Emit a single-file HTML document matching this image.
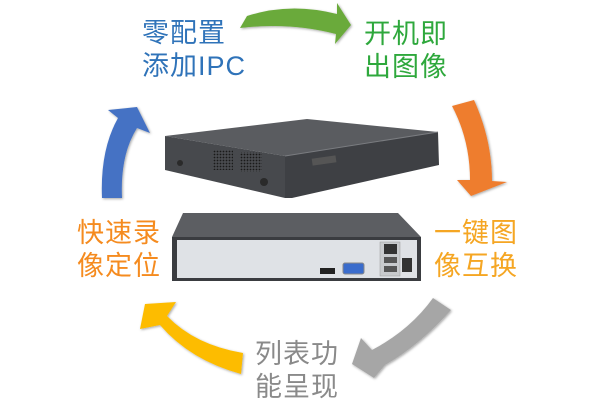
<!DOCTYPE html>
<html><head><meta charset="utf-8"><style>
html,body{margin:0;padding:0;background:#fff;}
body{width:604px;height:404px;position:relative;overflow:hidden;font-family:"Liberation Sans","Noto Sans CJK SC",sans-serif;}
.t{position:absolute;font-size:27px;line-height:33px;text-align:left;letter-spacing:1px;white-space:nowrap;}
</style></head><body>
<svg width="604" height="404" style="position:absolute;left:0;top:0">
<defs><filter id="s" x="-20%" y="-20%" width="140%" height="140%"><feDropShadow dx="1" dy="1" stdDeviation="1.2" flood-color="#000" flood-opacity="0.35"/></filter>
<pattern id="v" width="3" height="3" patternUnits="userSpaceOnUse"><rect width="3" height="3" fill="#4a4c50"/><circle cx="1.5" cy="1.5" r="0.9" fill="#1a1a1a"/></pattern></defs>
<path d="M240,28 L247,16 Q290,2 337,14 L337,3 L351,25 L335,44 L336,34 Q290,22 240,28 Z" fill="#6aaa3a" filter="url(#s)"/>
<path d="M452,106 L474,100 Q492,140 492,181 L507,182 L471,196 L457,180 L470,180 Q470,140 452,106 Z" fill="#ee7d2d" filter="url(#s)"/>
<path d="M433,298 L451,310 Q420,345 385,365 L374,378 L352,364 L361,338 L372,350 Q410,330 433,298 Z" fill="#a6a6a6" filter="url(#s)"/>
<path d="M243,353 L241,374 Q190,360 160,325 L140,329 L145,304 L176,302 L167,316 Q195,345 243,353 Z" fill="#fdbc00" filter="url(#s)"/>
<path d="M102,198 L122,198 Q120,155 137,128 L150,133 L137,107 L108,110 L118,118 Q100,150 102,198 Z" fill="#4472c4" filter="url(#s)"/>
<polygon points="165,136 307,119 438,132 285,156" fill="#5a5c60"/>
<polygon points="165,136 285,156 285,198 165,170" fill="#47494d"/>
<polygon points="285,156 438,132 439,165 292,198 285,198" fill="#3e4044"/>
<line x1="285" y1="156" x2="438" y2="132" stroke="#7a7c80" stroke-width="1"/>
<rect x="312" y="157" width="24" height="7" fill="#555" transform="rotate(-8 324 160)"/>
<rect x="213" y="150" width="20" height="20" fill="url(#v)"/><rect x="240" y="152" width="22" height="20" fill="url(#v)"/>
<circle cx="180" cy="163" r="3" fill="#2a2a2a"/><circle cx="264" cy="182" r="4" fill="#2a2a2a"/>
<polygon points="183,213 398,213 421,237 172,237" fill="#5c5e62"/>
<rect x="172" y="237" width="249" height="44" fill="#3a3c40"/>
<rect x="177" y="240" width="240" height="38" fill="#dfe2e6"/>
<rect x="380" y="242" width="20" height="34" fill="#c8cacd" stroke="#999" stroke-width=".5"/>
<rect x="384" y="244" width="13" height="10" fill="#333"/>
<rect x="384" y="257" width="13" height="6" fill="#555"/><rect x="384" y="266" width="13" height="6" fill="#555"/>
<rect x="402" y="258" width="10" height="14" fill="#333"/>
<rect x="320" y="268" width="15" height="6" fill="#222"/>
<rect x="343" y="263" width="21" height="11" rx="2" fill="#3a6ccc" stroke="#888"/>
</svg>
<div class="t" style="left:142px;top:17px;color:#2f73b9">零配置<br>添加IPC</div>
<div class="t" style="left:364px;top:18px;color:#2ea83c">开机即<br>出图像</div>
<div class="t" style="left:434px;top:217px;color:#f5a623">一键图<br>像互换</div>
<div class="t" style="left:77px;top:217px;color:#f58b1f">快速录<br>像定位</div>
<div class="t" style="left:255px;top:338px;color:#8a8a8a">列表功<br>能呈现</div>
</body></html>
